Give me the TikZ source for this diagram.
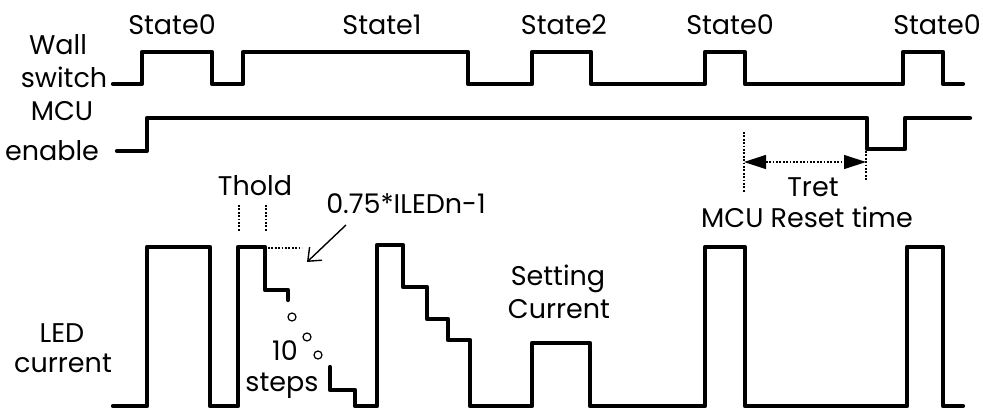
\documentclass[tikz,border=0pt]{standalone}
\usepackage{fontspec}
\setmainfont{Poppins}
\usetikzlibrary{arrows.meta}
\tikzset{
  sig/.style={line width=4.2pt, line join=round, line cap=round},
  lbl/.style={anchor=base, inner sep=0pt, font=\fontsize{27}{30}\selectfont},
  dots/.style={line width=1.2pt, dash pattern=on 1.8pt off 1.6pt},
  pointer/.style={line width=1.4pt, -{Straight Barb[length=11pt,width=18pt,line width=1.4pt]}},
  span/.style={dots, {Triangle[length=22pt,width=14pt]}-{Triangle[length=22pt,width=14pt]}},
  blob/.style={circle, draw, line width=1.2pt, minimum size=8pt, inner sep=0pt}
}
\begin{document}
\begin{tikzpicture}[x=1pt,y=-1pt]
\useasboundingbox (0,0) rectangle (983,412);
% left labels
\node[lbl] (wall) at (58,55) {Wall};
\node[lbl] (switch) at (64,88) {switch};
\node[lbl] (mcu) at (62,120) {MCU};
\node[lbl] (enable) at (52,160) {enable};
\node[lbl] (led) at (62,342) {LED};
\node[lbl] (current) at (63,372) {current};
% state labels
\node[lbl] (s0a) at (172,35) {State0};
\node[lbl] (s1) at (382,35) {State1};
\node[lbl] (s2) at (564,35) {State2};
\node[lbl] (s0b) at (730,35) {State0};
\node[lbl] (s0c) at (937,35) {State0};
% wall switch
\draw[sig] (113,84) -- (142,84) -- (142,52) -- (212,52) -- (212,84) -- (243,84) -- (243,52)
  -- (468,52) -- (468,84) -- (532,84) -- (532,52) -- (591,52) -- (591,84) -- (705,84)
  -- (705,52) -- (745,52) -- (745,84) -- (903,84) -- (903,52) -- (943,52) -- (943,84) -- (963,84);
% MCU enable
\draw[sig] (117,151) -- (147,151) -- (147,118) -- (867,118) -- (867,149) -- (905,149)
  -- (905,118) -- (970,118);
% LED current
\draw[sig] (113,406) -- (147,406) -- (147,247) -- (210,247) -- (210,406) -- (238,406)
  -- (238,247) -- (265,247) -- (265,290) -- (288,290) -- (288,300);
\draw[sig] (330,367) -- (330,390) -- (355,390) -- (355,406) -- (377,406) -- (377,245)
  -- (403,245) -- (403,287) -- (427,287) -- (427,319) -- (448,319) -- (448,340)
  -- (470,340) -- (470,406) -- (532,406) -- (532,343) -- (590,343) -- (590,406)
  -- (705,406) -- (705,247) -- (745,247) -- (745,406) -- (907,406) -- (907,247)
  -- (943,247) -- (943,406) -- (963,406);
% Thold
\node[lbl] (thold) at (255,195) {Thold};
\coordinate (th1a) at (239,205); \coordinate (th1b) at (239,232);
\coordinate (th2a) at (266,205); \coordinate (th2b) at (266,232);
\draw[dots] (th1a) -- (th1b);
\draw[dots] (th2a) -- (th2b);
\coordinate (lvA) at (268,248); \coordinate (lvB) at (302,248);
\draw[dots] (lvA) -- (lvB);
% 0.75 label and pointer
\node[lbl] (pct) at (406,213) {0.75*ILEDn-1};
\coordinate (pA) at (346,225); \coordinate (pB) at (307,262);
\draw[pointer] (pA) -- (pB);
% 10 steps
\node[blob] (c1) at (292,317) {};
\node[blob] (c2) at (307,337) {};
\node[blob] (c3) at (318,355) {};
\node[lbl] (ten) at (285,360) {10};
\node[lbl] (steps) at (282,391) {steps};
% Setting current
\node[lbl] (setting) at (558,285) {Setting};
\node[lbl] (setcur) at (559,318) {Current};
% Tret
\coordinate (tlA) at (744,132); \coordinate (tlB) at (744,192);
\coordinate (trA) at (866,151); \coordinate (trB) at (866,180);
\draw[dots] (tlA) -- (tlB);
\draw[dots] (trA) -- (trB);
\coordinate (arL) at (744,162); \coordinate (arR) at (866,162);
\draw[span] (arL) -- (arR);
\node[lbl] (tret) at (813,196) {Tret};
\node[lbl] (reset) at (807,227) {MCU Reset time};
\end{tikzpicture}
\end{document}
